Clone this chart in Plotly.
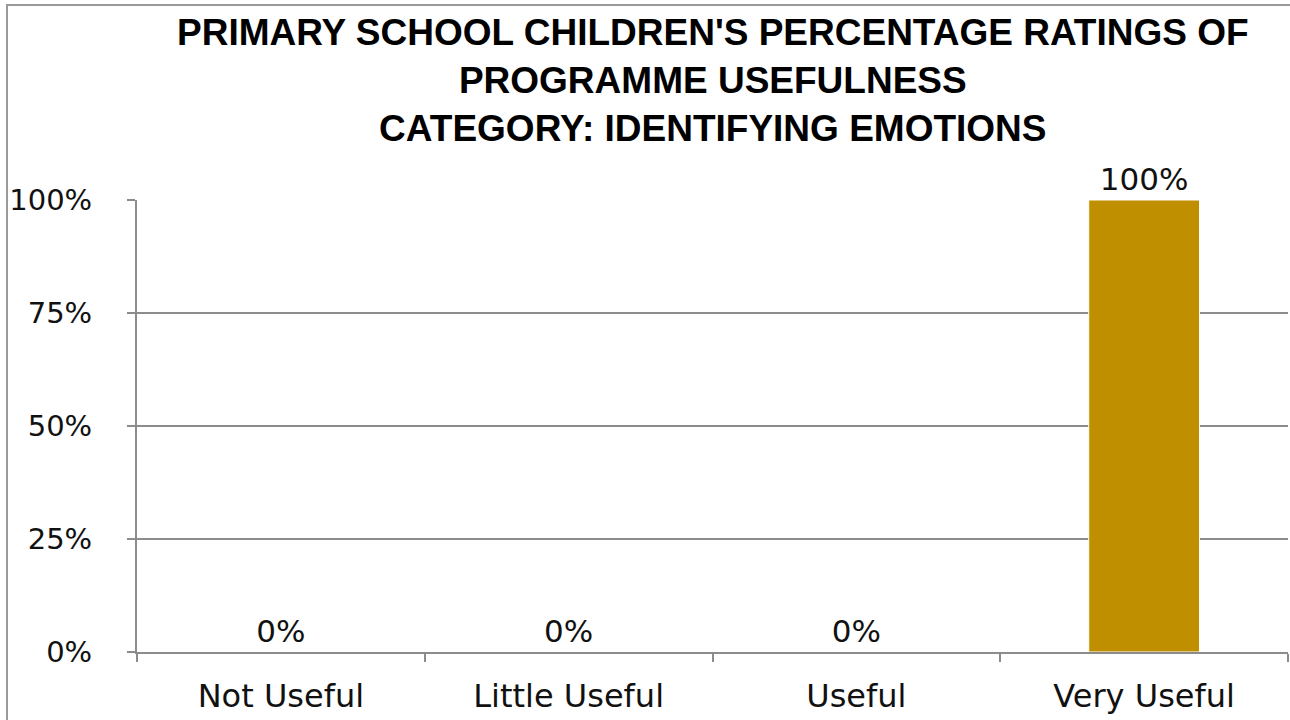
import plotly.graph_objects as go

categories = ["Not Useful", "Little Useful", "Useful", "Very Useful"]
shares = [0.0, 0.0, 0.0, 1.0]
y_ticks = [0, 0.25, 0.5, 0.75, 1.0]
y_tick_labels = ["0%", "25%", "50%", "75%", "100%"]
title_lines = [
    "PRIMARY SCHOOL CHILDREN'S PERCENTAGE RATINGS OF",
    "PROGRAMME USEFULNESS",
    "CATEGORY: IDENTIFYING EMOTIONS",
]

W, H = 1290, 720
ML, MR, MT, MB = 137, 2, 200, 68
GRID = "#8c8c8c"
BODY_FONT = "'DejaVu Sans', sans-serif"

fig = go.Figure(
    go.Bar(
        x=categories,
        y=shares,
        width=0.385,
        marker=dict(color="#bf8f00", line=dict(color="white", width=1)),
        text=[f"{v:.0%}" for v in shares],
        textposition="outside",
        textfont=dict(family=BODY_FONT, size=31, color="#111"),
        cliponaxis=False,
    )
)

pw = W - ML - MR
ph = H - MT - MB
# outer chart frame
fig.add_shape(
    type="rect", xref="paper", yref="paper",
    x0=(7 - ML) / pw, x1=(W + 20 - ML) / pw,
    y0=(H - MB - (H + 20)) / ph, y1=(H - MB - 5) / ph,
    line=dict(color="#9a9a9a", width=2), layer="below",
)

fig.add_annotation(
    text="<br>".join(f"<b>{line}</b>" for line in title_lines),
    xref="paper", yref="paper",
    x=0.5, y=(H - MB - 10) / ph, xanchor="center", yanchor="top",
    showarrow=False, align="center",
    font=dict(family="'Liberation Sans', Arial, sans-serif", size=37, color="#000"),
)

fig.update_layout(
    width=W, height=H,
    margin=dict(l=ML, r=MR, t=MT, b=MB, autoexpand=False),
    paper_bgcolor="white", plot_bgcolor="white",
    showlegend=False,
    font=dict(family=BODY_FONT, size=29, color="#111"),
)
fig.update_xaxes(
    automargin=False,
    showline=True, linecolor=GRID, linewidth=2,
    ticks="outside", tickson="boundaries", ticklen=8, tickwidth=2, tickcolor=GRID,
    showgrid=False, tickfont=dict(size=32), ticklabelstandoff=15,
)
fig.update_yaxes(
    automargin=False,
    range=[0, 1], tickvals=y_ticks, ticktext=y_tick_labels,
    showline=True, linecolor=GRID, linewidth=2,
    ticks="outside", ticklen=8, tickwidth=2, tickcolor=GRID,
    showgrid=True, gridcolor=GRID, gridwidth=2,
    zeroline=False, tickfont=dict(size=29), ticklabelstandoff=29,
)

fig.write_html("out.html")
